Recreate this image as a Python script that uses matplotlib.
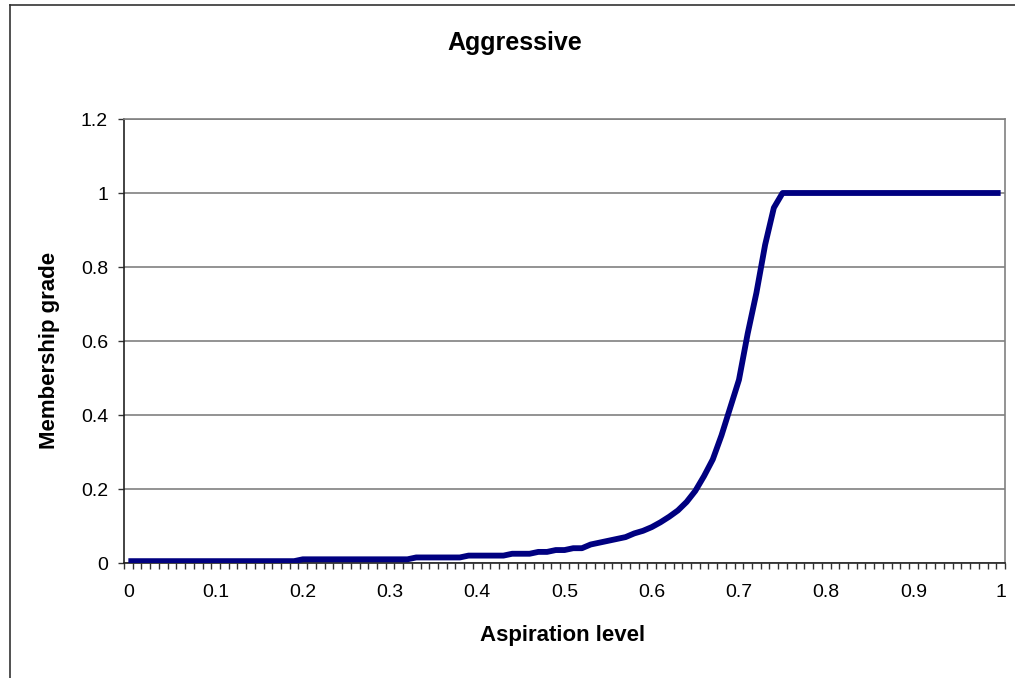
import matplotlib.pyplot as plt
from matplotlib.lines import Line2D
import numpy as np

# membership curve sampled every 0.01 of aspiration level
aspiration = [round(i * 0.01, 2) for i in range(101)]
grade = (
    [0.005] * 20                                   # 0.00 - 0.19
    + [0.01] * 13                                  # 0.20 - 0.32
    + [0.015] * 6                                  # 0.33 - 0.38
    + [0.02] * 5                                   # 0.39 - 0.43
    + [0.025] * 3                                  # 0.44 - 0.46
    + [0.03] * 2                                   # 0.47 - 0.48
    + [0.035] * 2                                  # 0.49 - 0.50
    + [0.04] * 2                                   # 0.51 - 0.52
    + [0.05, 0.055, 0.06, 0.065, 0.07, 0.08, 0.087]  # 0.53 - 0.59
    + [0.097, 0.11, 0.125, 0.142, 0.165, 0.195]    # 0.60 - 0.65
    + [0.235, 0.28, 0.345, 0.42, 0.495]            # 0.66 - 0.70
    + [0.62, 0.73, 0.86, 0.96]                     # 0.71 - 0.74
    + [1.0] * 26                                   # 0.75 - 1.00
)
xtick_vals = [0, 0.1, 0.2, 0.3, 0.4, 0.5, 0.6, 0.7, 0.8, 0.9, 1]
xtick_labels = ["0", "0.1", "0.2", "0.3", "0.4", "0.5", "0.6", "0.7", "0.8", "0.9", "1"]
ytick_vals = [0, 0.2, 0.4, 0.6, 0.8, 1.0, 1.2]
ytick_labels = ["0", "0.2", "0.4", "0.6", "0.8", "1", "1.2"]

plt.rcParams['font.family'] = ['Liberation Sans', 'DejaVu Sans']

fig = plt.figure(figsize=(10.15, 6.78), dpi=100)
ax = fig.add_axes([124 / 1015, 1 - 563 / 678, (1005 - 124) / 1015, (563 - 119) / 678])

ax.plot(aspiration, grade, color='#000080', linewidth=4.2, solid_capstyle='butt', zorder=3)

ax.set_xlim(-0.005, 1.005)
ax.set_ylim(0, 1.2)

ax.set_xticks(xtick_vals)
ax.set_xticklabels(xtick_labels, fontsize=14)
ax.set_xticks(np.arange(101 + 1) * 0.01 - 0.005, minor=True)
ax.tick_params(axis='x', which='major', length=0, pad=15)
ax.tick_params(axis='x', which='minor', length=4, width=1, color='#333333', direction='out')

ax.set_yticks(ytick_vals)
ax.set_yticklabels(ytick_labels, fontsize=14)
ax.tick_params(axis='y', which='major', length=4.5, width=1, color='#333333', pad=7)

ax.grid(axis='y', color='#808080', linewidth=1.2)
ax.set_axisbelow(True)

for side in ['top', 'right']:
    ax.spines[side].set_color('#808080')
    ax.spines[side].set_linewidth(1.2)
for side in ['left', 'bottom']:
    ax.spines[side].set_color('#222222')
    ax.spines[side].set_linewidth(1.2)

fig.text(515 / 1015, 1 - 43 / 678, "Aggressive", fontsize=18, fontweight='bold',
         ha='center', va='center')
fig.text(563 / 1015, 1 - 635 / 678, "Aspiration level", fontsize=16, fontweight='bold',
         ha='center', va='center')
fig.text(50 / 1015, 1 - 350 / 678, "Membership grade", fontsize=16, fontweight='bold',
         ha='center', va='center', rotation=90)

# chart area border (left and top edges)
fig.add_artist(Line2D([9.5 / 1015, 9.5 / 1015], [0, 1 - 4.5 / 678], color='#333333', linewidth=1.2))
fig.add_artist(Line2D([9.5 / 1015, 1], [1 - 4.5 / 678, 1 - 4.5 / 678], color='#333333', linewidth=1.2))

fig.savefig("out.png", dpi=100)
